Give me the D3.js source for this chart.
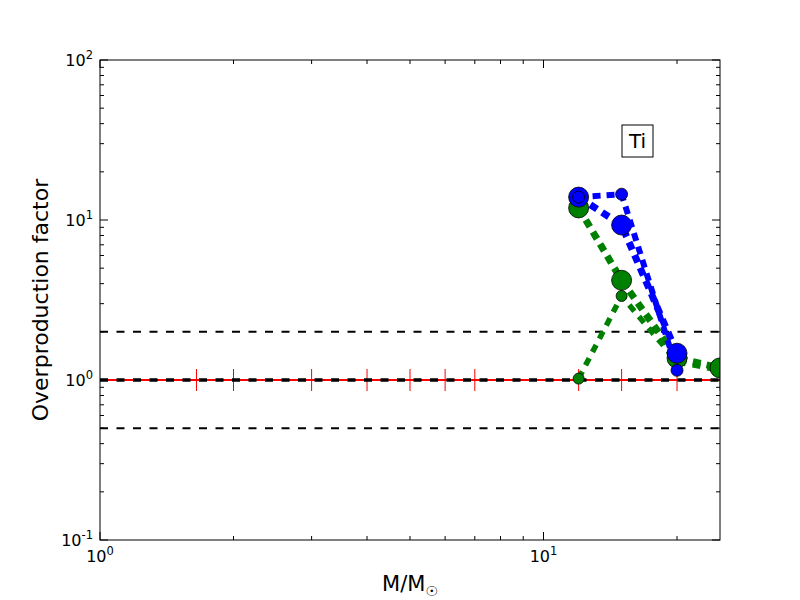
<!DOCTYPE html>
<html><head><meta charset="utf-8">
<script src="https://cdn.jsdelivr.net/npm/d3@7"></script>
<style>body{margin:0;background:#fff}svg{font-family:"DejaVu Sans",sans-serif}</style>
</head><body><svg id="c" width="800" height="600"></svg>
<script>
const xDomain=[1,25], yDomain=[0.1,100];
const xMajor=[1,10], yMajor=[0.1,1,10,100];
const xMajorLabels=["0","1"], yMajorLabels=["-1","0","1","2"];
const refMasses=[1.65,2,3,4,5,6,7,12,15,20,25];
const refLevels=[0.5,1,2];
const element="Ti";
const massesA=[12,15,20];
const blueBig=[13.9,9.3,1.47];
const blueSmall=[13.9,14.5,1.15];
const massesB=[12,15,20,25];
const greenBig=[11.9,4.2,1.37,1.19];
const greenSmall=[1.02,3.35,1.3,1.15];

const svg=d3.select("#c");
const L=100,R=720,T=60,B=540;
const x=d3.scaleLog().domain(xDomain).range([L,R]);
const y=d3.scaleLog().domain(yDomain).range([B,T]);
svg.append("defs").append("clipPath").attr("id","cp").append("rect").attr("x",L).attr("y",T).attr("width",R-L).attr("height",B-T);
const g=svg.append("g").attr("clip-path","url(#cp)");

// red reference line with error bars
g.append("line").attr("x1",L).attr("x2",R).attr("y1",y(1)).attr("y2",y(1)).attr("stroke","#ff0000").attr("stroke-width",2);
g.selectAll(".eb").data(refMasses).enter().append("line").attr("x1",d=>x(d)).attr("x2",d=>x(d)).attr("y1",y(1)-11).attr("y2",y(1)+11).attr("stroke","#ff0000").attr("stroke-width",1);
// dashed black lines
g.selectAll(".hl").data(refLevels).enter().append("line").attr("x1",L).attr("x2",R).attr("y1",d=>y(d)).attr("y2",d=>y(d)).attr("stroke","#000").attr("stroke-width",d=>d===1?3.5:2).attr("stroke-dasharray","8,8.5");

function series(ms,vals,color,lw,r,dash){
  const line=d3.line().x((d,i)=>x(ms[i])).y(d=>y(d));
  g.append("path").attr("d",line(vals)).attr("fill","none").attr("stroke",color).attr("stroke-width",lw).attr("stroke-dasharray",dash);
  g.selectAll(null).data(vals).enter().append("circle").attr("cx",(d,i)=>x(ms[i])).attr("cy",d=>y(d)).attr("r",r).attr("fill",color).attr("stroke","#000").attr("stroke-width",0.8);
}
series(massesB,greenSmall,"#008000",5.5,5.5,"8,7");
series(massesB,greenBig,"#008000",7,10,"8,6");
series(massesA,blueBig,"#0000ff",7,10,"8,6");
series(massesA,blueSmall,"#0000ff",6,6,"8,6");

// frame
svg.append("rect").attr("x",L).attr("y",T).attr("width",R-L).attr("height",B-T).attr("fill","none").attr("stroke","#000").attr("stroke-width",1);

// ticks
const xMinor=[];for(let d=1;d<=10;d*=10)for(let k=2;k<=9;k++){const v=k*d;if(v<=25)xMinor.push(v);}
const yMinor=[];for(let d=0.1;d<100;d*=10)for(let k=2;k<=9;k++)yMinor.push(k*d);
const tk=svg.append("g").attr("stroke","#000").attr("stroke-width",1);
xMajor.forEach(v=>{const X=x(v);tk.append("line").attr("x1",X).attr("x2",X).attr("y1",B).attr("y2",B-8);tk.append("line").attr("x1",X).attr("x2",X).attr("y1",T).attr("y2",T+8);});
xMinor.forEach(v=>{const X=x(v);tk.append("line").attr("x1",X).attr("x2",X).attr("y1",B).attr("y2",B-4);tk.append("line").attr("x1",X).attr("x2",X).attr("y1",T).attr("y2",T+4);});
yMajor.forEach(v=>{const Y=y(v);tk.append("line").attr("x1",L).attr("x2",L+8).attr("y1",Y).attr("y2",Y);tk.append("line").attr("x1",R).attr("x2",R-8).attr("y1",Y).attr("y2",Y);});
yMinor.forEach(v=>{const Y=y(v);tk.append("line").attr("x1",L).attr("x2",L+4).attr("y1",Y).attr("y2",Y);tk.append("line").attr("x1",R).attr("x2",R-4).attr("y1",Y).attr("y2",Y);});

// tick labels
xMajor.forEach((v,i)=>{const t=svg.append("text").attr("x",x(v)).attr("y",562).attr("text-anchor","middle").attr("font-size",16);
  t.append("tspan").text("10");t.append("tspan").attr("dy",-7).attr("font-size",11.5).text(xMajorLabels[i]);});
yMajor.forEach((v,i)=>{const t=svg.append("text").attr("x",93).attr("y",y(v)+6).attr("text-anchor","end").attr("font-size",16);
  t.append("tspan").text("10");t.append("tspan").attr("dy",-7).attr("font-size",11.5).text(yMajorLabels[i]);});

// axis labels
svg.append("text").attr("transform","translate(48,300) rotate(-90)").attr("text-anchor","middle").attr("font-size",22).text("Overproduction factor");
const xl=svg.append("text").attr("x",410).attr("y",591).attr("text-anchor","middle").attr("font-size",21);
xl.append("tspan").text("M/M");xl.append("tspan").attr("dy",5).attr("font-size",14).text("☉");

// element label box
svg.append("rect").attr("x",622).attr("y",125).attr("width",31).attr("height",32).attr("fill","#fff").attr("stroke","#000").attr("stroke-width",1);
svg.append("text").attr("x",637.5).attr("y",148).attr("text-anchor","middle").attr("font-size",20).text(element);
</script></body></html>
